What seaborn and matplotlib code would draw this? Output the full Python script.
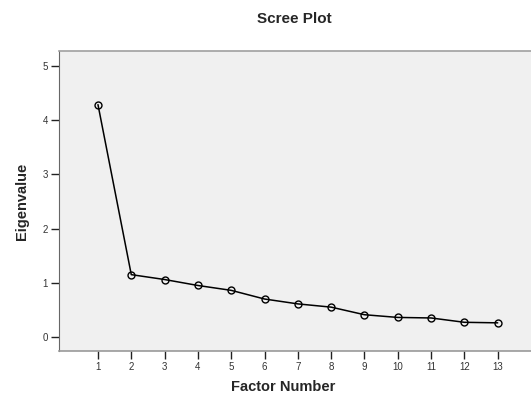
import matplotlib
matplotlib.use("Agg")
import matplotlib.pyplot as plt
import seaborn as sns
import pandas as pd

factors = list(range(1, 14))
eigenvalues = [4.29, 1.15, 1.06, 0.95, 0.86, 0.70, 0.61, 0.55, 0.41, 0.36, 0.35, 0.27, 0.26]
y_ticks = [0, 1, 2, 3, 4, 5]

df = pd.DataFrame({"Factor Number": factors, "Eigenvalue": eigenvalues})

sns.set_style("white")
plt.rcParams['font.family'] = ['Liberation Sans', 'DejaVu Sans']

fig = plt.figure(figsize=(5.31, 3.94), dpi=100)
ax = fig.add_axes([59/531, 1 - 351/394, 1 - 59/531, 300/394])
ax.set_facecolor("#f0f0f0")

sns.lineplot(data=df, x="Factor Number", y="Eigenvalue", ax=ax, color="black",
             linewidth=1.1, marker="o", markersize=5, markerfacecolor="none",
             markeredgecolor="black", markeredgewidth=1.0)

ax.set_xlim(-0.17, 14.0)
ax.set_ylim(-0.26, 5.28)
ax.set_xticks(factors)
ax.set_yticks(y_ticks)
ax.tick_params(axis="both", which="major", bottom=True, left=True, direction="out",
               length=6, width=1, color="#222222", labelsize=7, labelcolor="#333333", pad=2)
ax.spines["right"].set_visible(False)
ax.spines["left"].set_color("#666666")
ax.spines["bottom"].set_color("#999999")
ax.spines["bottom"].set_linewidth(1.2)
ax.spines["top"].set_color("#a0a0a0")
ax.spines["top"].set_linewidth(1.2)
ax.set_xlabel("Factor Number", fontsize=10.5, fontweight="bold", labelpad=6, x=0.475)
ax.set_ylabel("Eigenvalue", fontsize=10.5, fontweight="bold", labelpad=10)
fig.suptitle("Scree Plot", fontsize=11, fontweight="bold", x=0.555, y=0.97)

fig.savefig("out.png", dpi=100)
